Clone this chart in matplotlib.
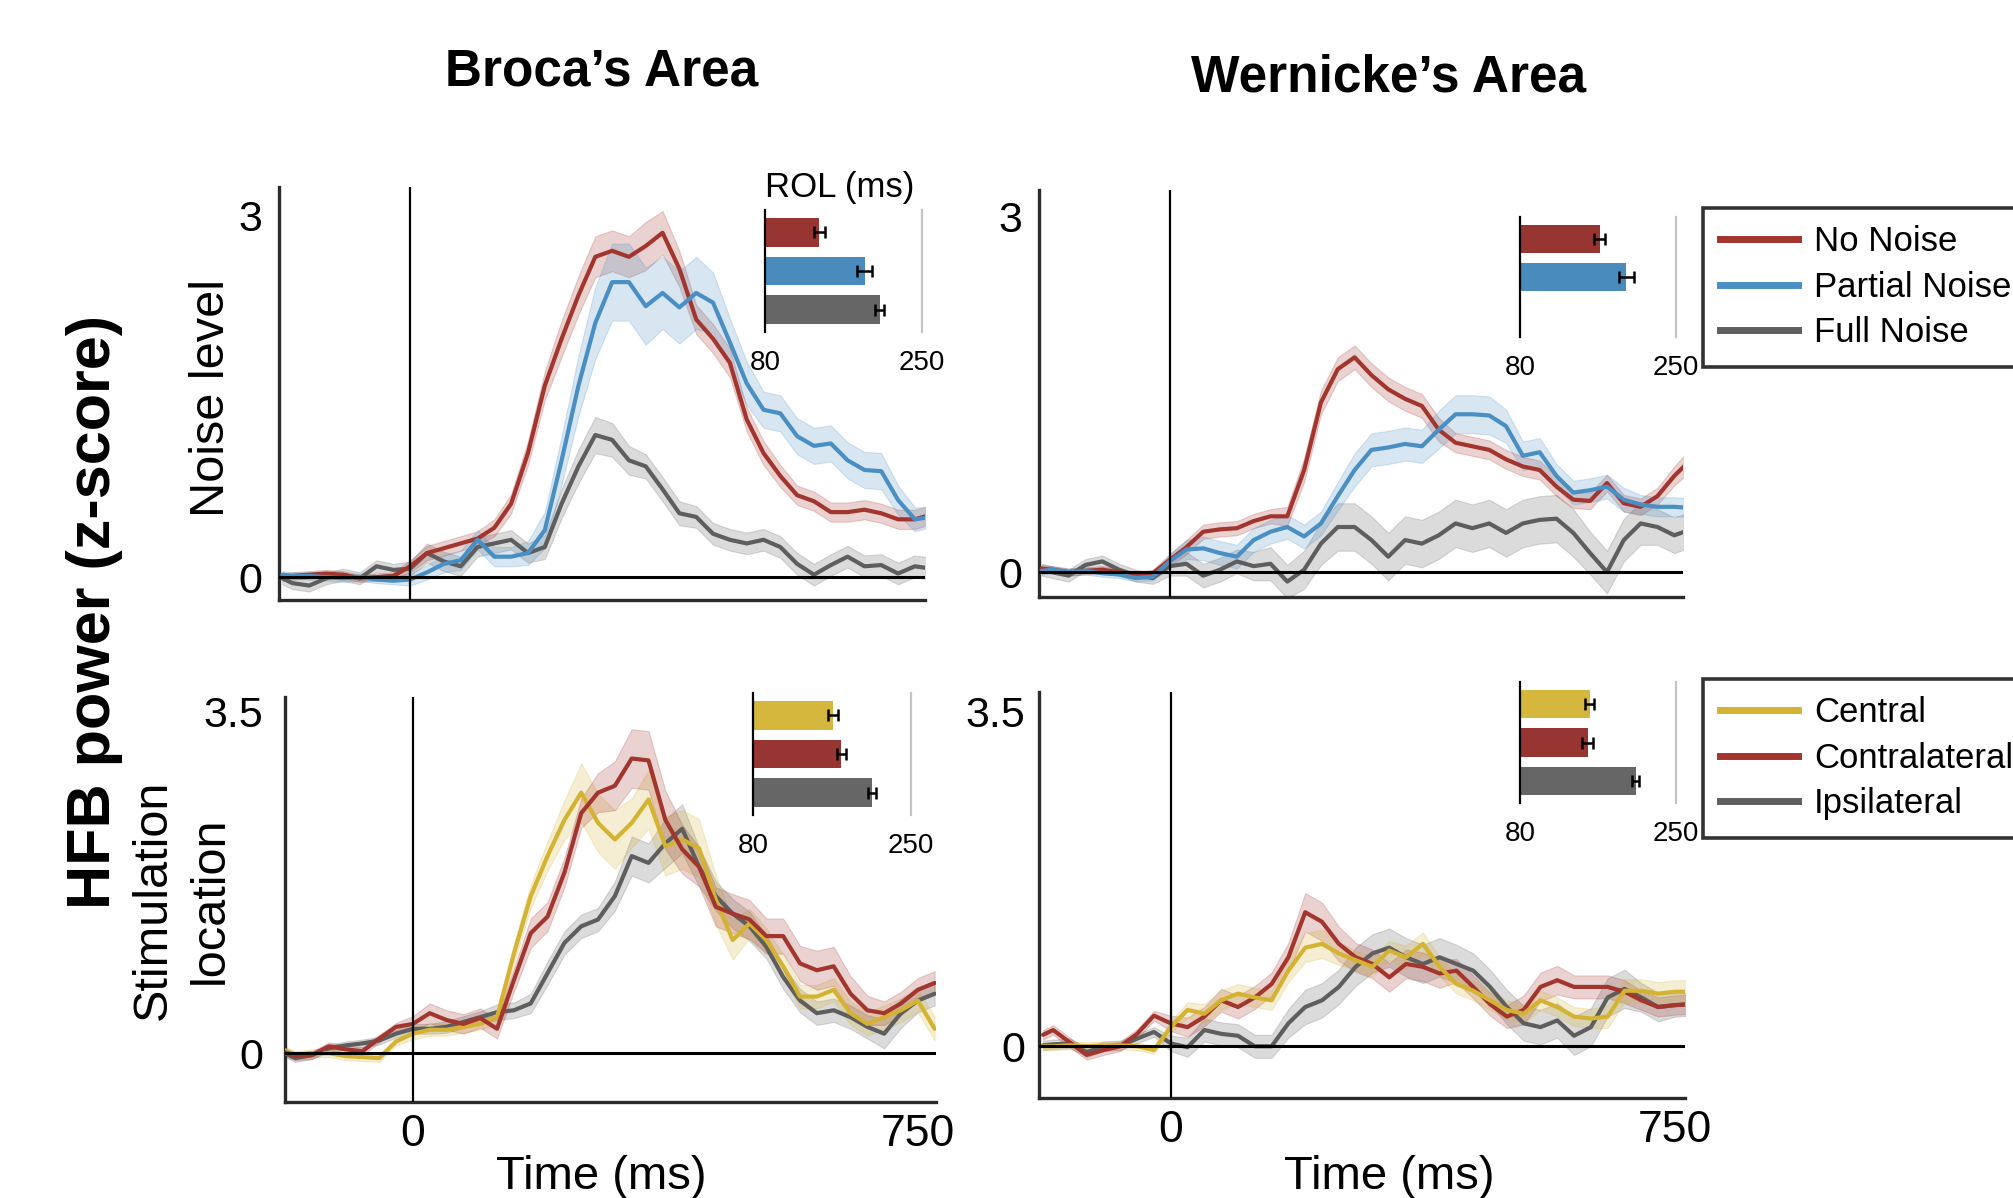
import numpy as np
import matplotlib
matplotlib.use("Agg")
import matplotlib.pyplot as plt
from matplotlib.lines import Line2D

plt.rcParams['font.family'] = ['Liberation Sans', 'DejaVu Sans']

# ---------------- data ----------------
time_ms = [-190, -175, -150, -125, -100, -75, -50, -25, 0, 25, 50, 75, 100, 125, 150, 175,
           200, 225, 250, 275, 300, 325, 350, 375, 400, 425, 450, 475, 500, 525, 550, 575,
           600, 625, 650, 675, 700, 725, 750, 775]

# Broca's area - noise level
broca_no_noise = [0.00, 0.01, 0.02, 0.03, 0.02, -0.01, 0.00, 0.01, 0.09, 0.20, 0.24, 0.28, 0.32, 0.41, 0.61, 1.03,
                  1.59, 1.98, 2.34, 2.66, 2.71, 2.66, 2.75, 2.86, 2.56, 2.14, 1.98, 1.78, 1.31, 1.03, 0.84, 0.68,
                  0.63, 0.54, 0.54, 0.56, 0.53, 0.48, 0.48, 0.52]
broca_no_noise_sem = [0.03, 0.03, 0.03, 0.03, 0.03, 0.03, 0.03, 0.03, 0.05, 0.06, 0.06, 0.06, 0.06, 0.07, 0.08, 0.10,
                      0.12, 0.15, 0.16, 0.17, 0.17, 0.17, 0.20, 0.18, 0.15, 0.12, 0.12, 0.12, 0.10, 0.10, 0.09, 0.08,
                      0.08, 0.08, 0.08, 0.08, 0.08, 0.08, 0.08, 0.08]
broca_partial = [0.02, 0.01, 0.01, 0.00, -0.01, 0.00, -0.02, -0.03, -0.02, 0.04, 0.11, 0.14, 0.31, 0.17, 0.17, 0.20,
                 0.39, 0.97, 1.59, 2.11, 2.45, 2.45, 2.25, 2.36, 2.24, 2.36, 2.28, 1.95, 1.61, 1.39, 1.36, 1.17,
                 1.09, 1.11, 0.97, 0.89, 0.88, 0.64, 0.48, 0.50]
broca_partial_sem = [0.03, 0.03, 0.03, 0.03, 0.03, 0.03, 0.03, 0.03, 0.05, 0.06, 0.07, 0.08, 0.08, 0.08, 0.08, 0.10,
                     0.15, 0.20, 0.25, 0.30, 0.32, 0.32, 0.32, 0.30, 0.30, 0.30, 0.25, 0.20, 0.18, 0.15, 0.15, 0.15,
                     0.15, 0.15, 0.15, 0.15, 0.15, 0.12, 0.10, 0.08]
broca_full = [-0.01, -0.05, -0.07, -0.01, 0.02, -0.01, 0.09, 0.06, 0.07, 0.20, 0.13, 0.09, 0.25, 0.28, 0.31, 0.20,
              0.25, 0.61, 0.92, 1.18, 1.14, 0.97, 0.92, 0.73, 0.53, 0.50, 0.36, 0.31, 0.28, 0.31, 0.25, 0.11,
              0.02, 0.10, 0.17, 0.09, 0.10, 0.03, 0.09, 0.07]
broca_full_sem = [0.05, 0.05, 0.05, 0.05, 0.05, 0.05, 0.05, 0.05, 0.06, 0.08, 0.08, 0.08, 0.08, 0.08, 0.08, 0.08,
                  0.10, 0.12, 0.14, 0.15, 0.14, 0.12, 0.10, 0.10, 0.10, 0.09, 0.09, 0.09, 0.09, 0.09, 0.09, 0.09,
                  0.09, 0.09, 0.09, 0.09, 0.09, 0.09, 0.09, 0.09]

# Wernicke's area - noise level
wern_no_noise = [0.03, 0.02, 0.00, 0.01, 0.02, 0.00, -0.03, -0.01, 0.10, 0.21, 0.34, 0.36, 0.37, 0.43, 0.47, 0.47,
                 0.86, 1.43, 1.71, 1.81, 1.66, 1.54, 1.46, 1.40, 1.20, 1.09, 1.06, 1.03, 0.95, 0.89, 0.86, 0.72,
                 0.61, 0.60, 0.75, 0.58, 0.55, 0.64, 0.81, 0.95]
wern_no_noise_sem = [0.03, 0.03, 0.03, 0.03, 0.03, 0.03, 0.03, 0.03, 0.05, 0.06, 0.06, 0.06, 0.06, 0.06, 0.06, 0.08,
                     0.10, 0.10, 0.10, 0.10, 0.10, 0.10, 0.10, 0.10, 0.10, 0.08, 0.08, 0.08, 0.08, 0.08, 0.08, 0.08,
                     0.07, 0.07, 0.07, 0.07, 0.07, 0.07, 0.08, 0.10]
wern_partial = [0.01, 0.02, 0.00, 0.01, -0.01, -0.02, -0.05, -0.04, 0.09, 0.19, 0.20, 0.16, 0.13, 0.27, 0.34, 0.38,
                0.30, 0.41, 0.64, 0.86, 1.03, 1.05, 1.08, 1.06, 1.20, 1.33, 1.33, 1.32, 1.23, 0.98, 1.01, 0.81,
                0.67, 0.69, 0.72, 0.61, 0.57, 0.55, 0.55, 0.54]
wern_partial_sem = [0.03, 0.03, 0.03, 0.03, 0.03, 0.03, 0.03, 0.03, 0.06, 0.08, 0.10, 0.10, 0.10, 0.10, 0.10, 0.10,
                    0.10, 0.10, 0.12, 0.14, 0.14, 0.14, 0.14, 0.14, 0.16, 0.16, 0.16, 0.16, 0.14, 0.12, 0.12, 0.10,
                    0.10, 0.10, 0.10, 0.10, 0.08, 0.08, 0.08, 0.08]
wern_full = [0.02, 0.00, -0.03, 0.06, 0.09, 0.02, -0.03, -0.05, 0.05, 0.07, -0.03, 0.02, 0.09, 0.05, 0.07, -0.08,
             0.02, 0.24, 0.38, 0.38, 0.27, 0.13, 0.27, 0.24, 0.31, 0.41, 0.37, 0.41, 0.33, 0.41, 0.44, 0.45,
             0.33, 0.16, 0.00, 0.27, 0.41, 0.38, 0.31, 0.36]
wern_full_sem = [0.05, 0.05, 0.05, 0.05, 0.05, 0.05, 0.05, 0.05, 0.08, 0.10, 0.10, 0.10, 0.10, 0.12, 0.14, 0.14,
                 0.16, 0.18, 0.20, 0.20, 0.20, 0.20, 0.20, 0.20, 0.20, 0.20, 0.20, 0.20, 0.20, 0.20, 0.20, 0.20,
                 0.20, 0.18, 0.18, 0.18, 0.18, 0.15, 0.15, 0.15]

# Broca's area - stimulation location
broca_central = [0.03, -0.02, 0.00, 0.00, -0.03, -0.04, -0.05, 0.12, 0.20, 0.24, 0.24, 0.27, 0.30, 0.37, 1.02, 1.61,
                 2.02, 2.39, 2.67, 2.36, 2.19, 2.36, 2.60, 2.12, 2.19, 2.10, 1.57, 1.16, 1.33, 1.16, 0.89, 0.58,
                 0.58, 0.65, 0.41, 0.30, 0.37, 0.44, 0.54, 0.25]
broca_central_sem = [0.04, 0.04, 0.04, 0.04, 0.04, 0.04, 0.04, 0.04, 0.06, 0.06, 0.06, 0.06, 0.06, 0.08, 0.10, 0.12,
                     0.15, 0.20, 0.30, 0.30, 0.30, 0.25, 0.30, 0.30, 0.30, 0.30, 0.25, 0.20, 0.15, 0.12, 0.12, 0.12,
                     0.12, 0.12, 0.12, 0.12, 0.12, 0.12, 0.12, 0.12]
broca_contra = [0.01, -0.03, -0.02, 0.07, 0.04, 0.02, 0.15, 0.27, 0.30, 0.41, 0.34, 0.30, 0.36, 0.25, 0.75, 1.23,
                1.40, 1.85, 2.46, 2.67, 2.74, 3.02, 3.00, 2.39, 2.09, 1.91, 1.50, 1.43, 1.37, 1.20, 1.20, 0.92,
                0.85, 0.89, 0.61, 0.44, 0.41, 0.51, 0.65, 0.72]
broca_contra_sem = [0.04, 0.04, 0.04, 0.04, 0.04, 0.04, 0.04, 0.04, 0.08, 0.10, 0.10, 0.10, 0.10, 0.10, 0.12, 0.15,
                    0.15, 0.15, 0.15, 0.20, 0.25, 0.30, 0.30, 0.30, 0.25, 0.20, 0.20, 0.20, 0.20, 0.18, 0.18, 0.18,
                    0.20, 0.20, 0.18, 0.15, 0.12, 0.12, 0.12, 0.12]
broca_ipsi = [0.00, -0.05, -0.02, 0.05, 0.08, 0.10, 0.13, 0.20, 0.25, 0.25, 0.27, 0.32, 0.37, 0.42, 0.44, 0.51,
              0.82, 1.13, 1.30, 1.37, 1.61, 2.02, 1.95, 2.15, 2.30, 1.91, 1.61, 1.43, 1.30, 1.09, 0.78, 0.54,
              0.41, 0.44, 0.37, 0.27, 0.20, 0.41, 0.54, 0.61]
broca_ipsi_sem = [0.04, 0.04, 0.04, 0.04, 0.04, 0.04, 0.04, 0.04, 0.05, 0.05, 0.06, 0.06, 0.06, 0.08, 0.08, 0.10,
                  0.12, 0.12, 0.12, 0.12, 0.15, 0.20, 0.20, 0.25, 0.25, 0.20, 0.15, 0.15, 0.15, 0.12, 0.12, 0.12,
                  0.12, 0.12, 0.12, 0.12, 0.15, 0.15, 0.12, 0.12]

# Wernicke's area - stimulation location
wern_central = [0.00, 0.00, 0.01, 0.00, 0.01, 0.01, 0.00, -0.04, 0.20, 0.38, 0.34, 0.48, 0.55, 0.51, 0.48, 0.79,
                1.03, 1.07, 0.97, 0.90, 0.83, 1.00, 0.93, 1.07, 0.83, 0.65, 0.58, 0.48, 0.38, 0.34, 0.48, 0.41,
                0.31, 0.29, 0.31, 0.58, 0.58, 0.55, 0.57, 0.57]
wern_central_sem = [0.04, 0.04, 0.04, 0.04, 0.04, 0.04, 0.04, 0.04, 0.06, 0.08, 0.10, 0.10, 0.10, 0.10, 0.10, 0.12,
                    0.15, 0.15, 0.12, 0.10, 0.10, 0.10, 0.12, 0.12, 0.10, 0.10, 0.10, 0.10, 0.10, 0.10, 0.10, 0.10,
                    0.10, 0.10, 0.12, 0.12, 0.12, 0.12, 0.12, 0.12]
wern_contra = [0.12, 0.17, 0.04, -0.09, -0.04, 0.00, 0.13, 0.32, 0.24, 0.20, 0.31, 0.48, 0.41, 0.51, 0.65, 0.93,
               1.40, 1.30, 1.07, 0.93, 0.86, 0.72, 0.86, 0.83, 0.76, 0.79, 0.62, 0.44, 0.31, 0.38, 0.62, 0.69,
               0.62, 0.62, 0.62, 0.57, 0.48, 0.41, 0.43, 0.44]
wern_contra_sem = [0.05, 0.05, 0.05, 0.05, 0.05, 0.05, 0.05, 0.05, 0.08, 0.10, 0.10, 0.12, 0.12, 0.12, 0.12, 0.15,
                   0.20, 0.20, 0.18, 0.15, 0.15, 0.15, 0.15, 0.15, 0.15, 0.12, 0.12, 0.12, 0.12, 0.15, 0.15, 0.15,
                   0.12, 0.12, 0.12, 0.12, 0.10, 0.10, 0.10, 0.10]
wern_ipsi = [0.01, 0.02, 0.03, -0.06, 0.00, 0.01, 0.08, 0.15, 0.03, -0.01, 0.17, 0.13, 0.11, 0.00, 0.00, 0.24,
             0.41, 0.48, 0.62, 0.83, 0.97, 1.03, 0.93, 0.86, 0.93, 0.86, 0.79, 0.62, 0.41, 0.24, 0.20, 0.27,
             0.11, 0.20, 0.51, 0.60, 0.51, 0.41, 0.43, 0.44]
wern_ipsi_sem = [0.05, 0.05, 0.05, 0.05, 0.05, 0.05, 0.05, 0.05, 0.08, 0.10, 0.12, 0.12, 0.12, 0.12, 0.12, 0.15,
                 0.18, 0.18, 0.18, 0.20, 0.20, 0.20, 0.20, 0.20, 0.20, 0.20, 0.18, 0.18, 0.18, 0.18, 0.18, 0.18,
                 0.20, 0.20, 0.20, 0.20, 0.15, 0.15, 0.12, 0.12]

# ROL (response onset latency, ms) insets
noise_labels = ['No Noise', 'Partial Noise', 'Full Noise']
location_labels = ['Central', 'Contralateral', 'Ipsilateral']
broca_noise_rol = [139, 188, 204]
broca_noise_rol_err = [6, 8, 5]
wern_noise_rol = [167, 196]
wern_noise_rol_err = [6, 8]
broca_loc_rol = [166, 175, 208]
broca_loc_rol_err = [5, 5, 4]
wern_loc_rol = [156, 154, 206]
wern_loc_rol_err = [5, 6, 4]

# ---------------- style ----------------
RED = '#a3352f'
BLUE = '#4a8fc3'
GREY = '#5e5e5e'
YELLOW = '#d5b332'
BAR_RED = '#973532'
BAR_BLUE = '#4a8bbd'
BAR_GREY = '#666666'
BAR_YELLOW = '#d4b73c'

W, H = 2013, 1198
fig = plt.figure(figsize=(W / 100, H / 100), dpi=100)


def rect(x0, y0, x1, y1):
    return [x0 / W, 1 - y1 / H, (x1 - x0) / W, (y1 - y0) / H]


def panel(r, xlim, ylim, ytop, series, show_x, ypad):
    ax = fig.add_axes(rect(*r))
    t = np.array(time_ms)
    for mean, sem, color in series:
        m = np.array(mean)
        s = np.array(sem)
        ax.fill_between(t, m - s, m + s, color=color, alpha=0.22, lw=0.8, zorder=2)
        ax.plot(t, m, color=color, lw=3.0, zorder=3, solid_capstyle='round', solid_joinstyle='round')
    ax.axhline(0, color='black', lw=2.2, zorder=4)
    ax.axvline(0, color='black', lw=1.6, zorder=4)
    ax.set_xlim(*xlim)
    ax.set_ylim(*ylim)
    for sp in ['top', 'right']:
        ax.spines[sp].set_visible(False)
    for sp in ['left', 'bottom']:
        ax.spines[sp].set_linewidth(2.4)
        ax.spines[sp].set_color('#2b2b2b')
    ax.set_yticks([0, ytop])
    ax.set_yticklabels(['0', ('%g' % ytop)])
    ax.tick_params(axis='y', length=0, labelsize=31, pad=ypad)
    if show_x:
        ax.set_xticks([0, 750])
        ax.set_xticklabels(['0', '750'])
        ax.tick_params(axis='x', length=0, labelsize=32, pad=9)
    else:
        ax.set_xticks([])
    ax.patch.set_alpha(0)
    return ax


def inset(r, values, errs, colors, title=None):
    ax = fig.add_axes(rect(*r))
    pos = np.arange(len(values))
    v = np.array(values, dtype=float)
    ax.barh(pos, v - 80, left=80, height=0.74, color=colors,
            xerr=errs, error_kw=dict(ecolor='black', elinewidth=1.8, capsize=4.5, capthick=1.8))
    ax.set_xlim(80, 250)
    ax.set_ylim(2.58, -0.58)
    ax.axvline(250, color='#c4c4c4', lw=1.6, clip_on=False)
    for sp in ['top', 'right', 'bottom']:
        ax.spines[sp].set_visible(False)
    ax.spines['left'].set_linewidth(1.6)
    ax.set_yticks([])
    ax.set_xticks([80, 250])
    ax.tick_params(axis='x', length=0, labelsize=20, pad=13)
    ax.patch.set_alpha(0)
    if title:
        ax.set_title(title, loc='left', fontsize=25, pad=9)
    return ax


# Broca noise
panel((279, 187, 925, 600), (-195, 765), (-0.19, 3.24), 3,
      [(broca_full, broca_full_sem, GREY), (broca_no_noise, broca_no_noise_sem, RED),
       (broca_partial, broca_partial_sem, BLUE)], False, 12)
inset((765, 210, 922, 332), broca_noise_rol, broca_noise_rol_err, [BAR_RED, BAR_BLUE, BAR_GREY], 'ROL (ms)')

# Wernicke noise
panel((1039, 190, 1683, 597), (-194, 763), (-0.21, 3.22), 3,
      [(wern_full, wern_full_sem, GREY), (wern_no_noise, wern_no_noise_sem, RED),
       (wern_partial, wern_partial_sem, BLUE)], False, 12)
inset((1520, 217, 1676, 337), wern_noise_rol, wern_noise_rol_err, [BAR_RED, BAR_BLUE])

# Broca location
panel((285, 697, 936, 1102), (-190, 777), (-0.50, 3.65), 3.5,
      [(broca_ipsi, broca_ipsi_sem, GREY), (broca_central, broca_central_sem, YELLOW),
       (broca_contra, broca_contra_sem, RED)], True, 16)
inset((753, 693, 911, 815), broca_loc_rol, broca_loc_rol_err, [BAR_YELLOW, BAR_RED, BAR_GREY])

# Wernicke location
panel((1039, 692, 1685, 1098), (-196, 765), (-0.54, 3.70), 3.5,
      [(wern_ipsi, wern_ipsi_sem, GREY), (wern_contra, wern_contra_sem, RED),
       (wern_central, wern_central_sem, YELLOW)], True, 10)
inset((1520, 682, 1676, 803), wern_loc_rol, wern_loc_rol_err, [BAR_YELLOW, BAR_RED, BAR_GREY])


# legends (their frames run past the right edge, as in the original)
def legend(labels, colors, top):
    handles = [Line2D([], [], color=c, lw=5) for c in colors]
    leg = fig.legend(handles, labels, loc='upper left', bbox_to_anchor=(1703 / W, 1 - top / H),
                     bbox_transform=fig.transFigure, frameon=True, fancybox=False, shadow=False,
                     edgecolor='black', fontsize=25, handlelength=2.25, handletextpad=0.45,
                     borderpad=0.5, labelspacing=0.36, borderaxespad=0)
    leg.get_frame().set_linewidth(2.6)
    leg.get_frame().set_facecolor('white')
    return leg


legend(noise_labels, [RED, BLUE, GREY], 208)
legend(location_labels, [YELLOW, RED, GREY], 679)

# texts
fig.text(602 / W, 1 - 72 / H, 'Broca\u2019s Area', fontsize=37, fontweight='bold', ha='center', va='center')
fig.text(1389 / W, 1 - 78 / H, 'Wernicke\u2019s Area', fontsize=37, fontweight='bold', ha='center', va='center')
fig.text(95 / W, 1 - 612 / H, 'HFB power (z-score)', fontsize=44, fontweight='bold', rotation=90,
         ha='center', va='center')
fig.text(212 / W, 1 - 398 / H, 'Noise level', fontsize=35, rotation=90, ha='center', va='center')
fig.text(153 / W, 1 - 900 / H, 'Stimulation', fontsize=35, rotation=90, ha='center', va='center')
fig.text(210 / W, 1 - 900 / H, 'location', fontsize=35, rotation=90, ha='center', va='center')
fig.text(601 / W, 1 - 1177 / H, 'Time (ms)', fontsize=34, ha='center', va='center')
fig.text(1389 / W, 1 - 1177 / H, 'Time (ms)', fontsize=34, ha='center', va='center')

fig.savefig('out.png', dpi=100, facecolor='white')
